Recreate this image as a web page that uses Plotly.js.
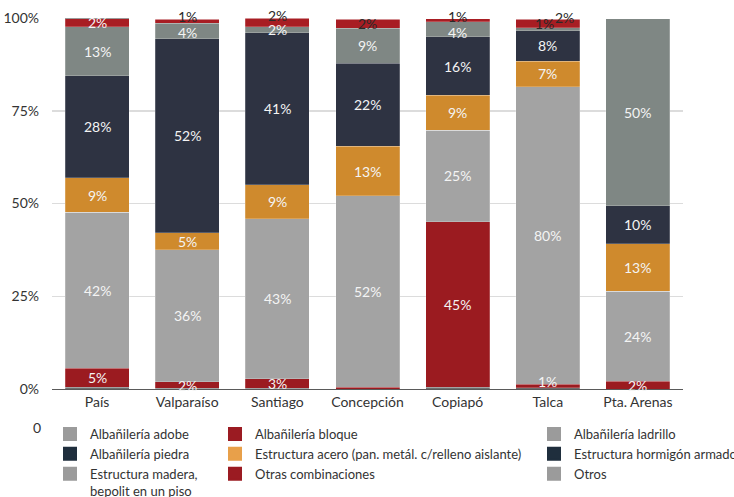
<!DOCTYPE html>
<html>
<head>
<meta charset="utf-8">
<script src="https://cdn.plot.ly/plotly-3.0.1.min.js"></script>
<style>html,body{margin:0;padding:0;background:#fff;}</style>
</head>
<body>
<div id="chart" style="width:734px;height:497px;"></div>
<script>
// ---- data ----
const categories = ['País','Valparaíso','Santiago','Concepción','Copiapó','Talca','Pta. Arenas'];
const seriesNames = ['Albañilería adobe','Albañilería bloque','Albañilería ladrillo','Albañilería piedra',
  'Estructura acero (pan. metál. c/relleno aislante)','Estructura hormigón armado',
  'Estructura madera,<br>bepolit en un piso','Otras combinaciones','Otros'];
const adobe    = [0.5, 0.2, 0.2, 0.0, 0.5, 0.3, 0.0];
const bloque   = [5.1, 1.7, 2.6, 0.5, 44.6, 1.0, 2.1];
const ladrillo = [42.0, 35.6, 43.1, 51.6, 24.7, 80.2, 24.2];
const piedra   = [0, 0, 0, 0, 0, 0, 0];
const acero    = [9.3, 4.6, 9.1, 13.3, 9.4, 6.9, 12.8];
const hormigon = [27.5, 52.3, 41.0, 22.4, 15.7, 8.2, 10.3];
const madera   = [13.2, 4.2, 1.7, 9.4, 4.1, 0.8, 50.4];
const otras    = [2.4, 1.0, 2.2, 2.4, 0.8, 2.2, 0.0];
const otros    = [0, 0, 0, 0, 0, 0, 0];
const yTickVals = [0, 25, 50, 75, 100];
const yTickText = ['0%', '25%', '50%', '75%', '100%'];

// ---- styles ----
const FONT = 'Lato, "Liberation Sans Narrow", Roboto, sans-serif';
const series = [adobe, bloque, ladrillo, piedra, acero, hormigon, madera, otras, otros];
const barColors = ['#6e6e6e','#9b1b20','#a3a3a3','#2e3342','#cf8a2d','#2e3342','#7f8784','#a81d23','#7f8784'];
const legendColors = ['#9b9b9b','#9b1b22','#9b9b9b','#1f2e3d','#e8a04a','#1f2e3d','#9b9b9b','#9b1b22','#9b9b9b'];
const legendOf = ['legend','legend2','legend3','legend','legend2','legend3','legend','legend2','legend3'];
const showLabels = [false, true, true, true, true, true, true, true, true];
const darkLabels = {6: [5], 7: [1, 2, 3, 4, 5]};
// label pixel offsets [dx, dy(up)] keyed "series-index"
const labelOffsets = {'7-1': [0, 5], '7-2': [0, 7], '7-4': [0, 4], '6-5': [-3, 6], '7-5': [17, 6],
  '6-1': [0, -2], '6-4': [0, -3], '1-5': [0, 5]};
const WHITE = '#f4f4f4', DARK = '#2a2a2a';

const traces = [];
const annotations = [];
const cum = categories.map(() => 0);
series.forEach((vals, s) => {
  traces.push({
    type: 'bar', x: categories, y: vals, name: seriesNames[s], showlegend: false,
    marker: {color: barColors[s], line: {width: 0.6, color: 'rgba(255,255,255,0.35)'}},
    hoverinfo: 'skip'
  });
  vals.forEach((v, i) => {
    const mid = cum[i] + v / 2;
    cum[i] += v;
    if (!showLabels[s] || v < 0.75) return;
    const off = labelOffsets[s + '-' + i] || [0, 0];
    const dark = darkLabels[s] && darkLabels[s].includes(i);
    annotations.push({x: categories[i], y: mid, xref: 'x', yref: 'y', text: Math.round(v) + '%',
      showarrow: false, xanchor: 'center', yanchor: 'middle', xshift: off[0], yshift: off[1],
      font: {family: FONT, size: 14, color: dark ? DARK : WHITE}});
  });
});
// legend-only entries (zero-height bars)
series.forEach((vals, s) => {
  traces.push({
    type: 'bar', x: [categories[0]], y: [0], name: seriesNames[s], legend: legendOf[s], showlegend: true,
    marker: {color: legendColors[s], line: {width: 2, color: legendColors[s]}}, hoverinfo: 'skip'
  });
});

annotations.push({x: -0.024, y: -0.103, xref: 'paper', yref: 'paper', text: '0', showarrow: false,
  xanchor: 'center', yanchor: 'middle', font: {family: FONT, size: 14, color: '#333'}});

const legendBase = {xref: 'container', yref: 'container', y: 1 - 419/497, yanchor: 'top', xanchor: 'left',
  orientation: 'v', traceorder: 'normal', bgcolor: 'rgba(0,0,0,0)', font: {family: FONT, size: 13, color: '#333'},
  valign: 'top', tracegroupgap: 0, itemclick: false, itemdoubleclick: false};

const layout = {
  width: 734, height: 497,
  margin: {l: 52, r: 51, t: 18, b: 108, autoexpand: false},
  barmode: 'stack', bargap: 0.29,
  paper_bgcolor: '#fff', plot_bgcolor: '#fff',
  font: {family: FONT, size: 14, color: '#333'},
  xaxis: {type: 'category', showline: true, linecolor: '#5a5a5a', linewidth: 1, ticks: '', showgrid: false,
    tickfont: {family: FONT, size: 14, color: '#333'}, fixedrange: true},
  yaxis: {range: [0, 100], tickvals: yTickVals, ticktext: yTickText, showgrid: true,
    gridcolor: '#dcdcdc', gridwidth: 1.5, zeroline: false, showline: false, ticks: '',
    ticklabelstandoff: 12, tickfont: {family: FONT, size: 14, color: '#333'}, fixedrange: true},
  legend: Object.assign({}, legendBase, {x: 50/734}),
  legend2: Object.assign({}, legendBase, {x: 215/734}),
  legend3: Object.assign({}, legendBase, {x: 534/734}),
  annotations: annotations,
  showlegend: true
};

Plotly.newPlot('chart', traces, layout, {displayModeBar: false, staticPlot: true});
</script>
</body>
</html>
